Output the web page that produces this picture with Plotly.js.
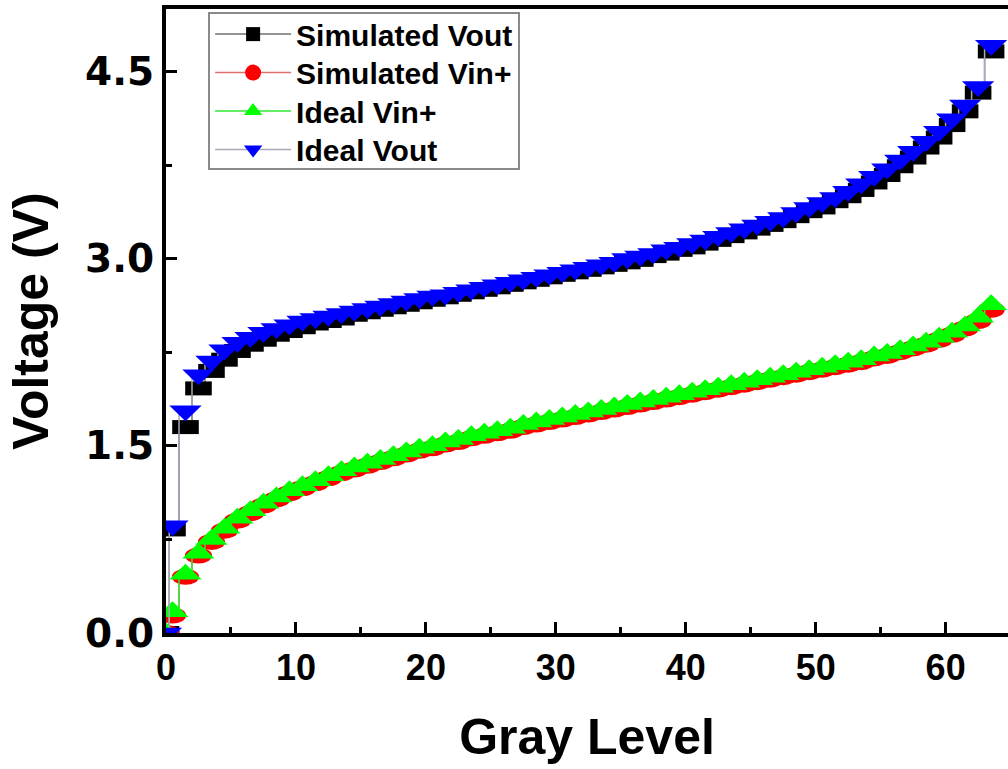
<!DOCTYPE html>
<html>
<head>
<meta charset="utf-8">
<script src="https://cdn.plot.ly/plotly-3.0.1.min.js"></script>
<style>
  html, body { margin: 0; padding: 0; background: #fff; }
  #chart { width: 1008px; height: 769px; }
</style>
</head>
<body>
<div id="chart"></div>
<script>
// Gray-level positions of the samples (first point at the origin, then centred half steps)
const grayLevel = [0, 0.5, 1.5, 2.5, 3.5, 4.5, 5.5, 6.5, 7.5, 8.5, 9.5, 10.5, 11.5, 12.5, 13.5, 14.5,
  15.5, 16.5, 17.5, 18.5, 19.5, 20.5, 21.5, 22.5, 23.5, 24.5, 25.5, 26.5, 27.5, 28.5, 29.5, 30.5,
  31.5, 32.5, 33.5, 34.5, 35.5, 36.5, 37.5, 38.5, 39.5, 40.5, 41.5, 42.5, 43.5, 44.5, 45.5, 46.5,
  47.5, 48.5, 49.5, 50.5, 51.5, 52.5, 53.5, 54.5, 55.5, 56.5, 57.5, 58.5, 59.5, 60.5, 61.5, 62.5, 63.5];

const simulatedVout = [0, 0.83, 1.65, 1.96, 2.10, 2.19, 2.26, 2.31, 2.35, 2.39, 2.42, 2.45, 2.48, 2.50, 2.52, 2.55,
  2.57, 2.59, 2.61, 2.63, 2.65, 2.67, 2.69, 2.71, 2.73, 2.75, 2.77, 2.79, 2.81, 2.83, 2.85, 2.87,
  2.89, 2.91, 2.93, 2.95, 2.97, 2.99, 3.02, 3.04, 3.07, 3.09, 3.12, 3.15, 3.18, 3.21, 3.24, 3.27,
  3.30, 3.34, 3.38, 3.41, 3.46, 3.50, 3.55, 3.61, 3.67, 3.74, 3.81, 3.89, 3.97, 4.07, 4.18, 4.33, 4.66];

const simulatedVinPlus = [0, 0.14, 0.45, 0.62, 0.73, 0.82, 0.90, 0.96, 1.02, 1.07, 1.12, 1.16, 1.20, 1.24, 1.28, 1.31,
  1.34, 1.37, 1.40, 1.43, 1.46, 1.48, 1.51, 1.53, 1.56, 1.58, 1.60, 1.62, 1.65, 1.67, 1.69, 1.71,
  1.73, 1.75, 1.77, 1.79, 1.81, 1.83, 1.85, 1.87, 1.89, 1.91, 1.93, 1.95, 1.97, 1.99, 2.01, 2.03,
  2.05, 2.07, 2.09, 2.11, 2.13, 2.15, 2.17, 2.20, 2.22, 2.25, 2.28, 2.31, 2.35, 2.39, 2.44, 2.50, 2.59];

const idealVinPlus = [0, 0.17, 0.47, 0.64, 0.75, 0.84, 0.92, 0.98, 1.04, 1.09, 1.14, 1.18, 1.22, 1.26, 1.30, 1.33,
  1.36, 1.39, 1.42, 1.45, 1.48, 1.50, 1.53, 1.55, 1.58, 1.60, 1.62, 1.64, 1.67, 1.69, 1.71, 1.73,
  1.75, 1.77, 1.79, 1.81, 1.83, 1.85, 1.87, 1.89, 1.91, 1.93, 1.95, 1.97, 1.99, 2.01, 2.03, 2.05,
  2.07, 2.09, 2.11, 2.13, 2.15, 2.17, 2.19, 2.22, 2.24, 2.27, 2.30, 2.33, 2.37, 2.41, 2.46, 2.53, 2.63];

const idealVout = [0, 0.86, 1.78, 2.07, 2.18, 2.27, 2.33, 2.37, 2.41, 2.44, 2.47, 2.50, 2.52, 2.54, 2.56, 2.58,
  2.60, 2.62, 2.64, 2.66, 2.68, 2.70, 2.71, 2.73, 2.75, 2.77, 2.79, 2.81, 2.83, 2.85, 2.87, 2.89,
  2.91, 2.93, 2.95, 2.97, 3.00, 3.02, 3.04, 3.07, 3.09, 3.12, 3.15, 3.18, 3.21, 3.24, 3.27, 3.30,
  3.33, 3.37, 3.41, 3.45, 3.49, 3.54, 3.60, 3.66, 3.72, 3.79, 3.86, 3.94, 4.02, 4.12, 4.23, 4.38, 4.71];

const seriesNames = ['Simulated Vout', 'Simulated Vin+', 'Ideal Vin+', 'Ideal Vout'];
const xTickValues = [0, 10, 20, 30, 40, 50, 60];
const yTickValues = [0, 1.5, 3.0, 4.5];

const FONT = 'Liberation Sans, Arial, Helvetica, sans-serif';
const WIDE = 'DejaVu Sans, Verdana, sans-serif';

function series(name, y, symbol, size, color, lineColor) {
  return {
    type: 'scatter', mode: 'lines+markers', name: name,
    x: grayLevel, y: y,
    line: { shape: 'hvh', color: lineColor, width: 1.5 },
    marker: { symbol: symbol, size: size, color: color, line: { width: 0 } }
  };
}

const traces = [
  series(seriesNames[0], simulatedVout, 'square', 14, '#000000', '#707070'),
  series(seriesNames[1], simulatedVinPlus, 'circle', 16, '#ff0000', '#e07070'),
  series(seriesNames[2], idealVinPlus, 'triangle-up', 20, '#00ff00', '#30e830'),
  series(seriesNames[3], idealVout, 'triangle-down', 20, '#0000ff', '#a8a8b8')
];

// Horizontal stretch applied to the plotted symbols of each trace (legend symbols stay normal)
const symbolScale = [[1.9, 1.0], [1.7, 1.0], [1.4, 1.05], [1.4, 1.05]];
// Row pitch of the legend entries, in pixels
const LEGEND_ROW = 38.5;

const layout = {
  width: 1008, height: 769,
  margin: { l: 166, r: 0, t: 9, b: 136 },
  paper_bgcolor: '#ffffff', plot_bgcolor: '#ffffff',
  showlegend: true,
  legend: {
    x: 0.05, y: 0.995, xanchor: 'left', yanchor: 'top',
    bgcolor: '#ffffff', bordercolor: '#8a8a8a', borderwidth: 2,
    font: { family: FONT, size: 30, weight: 'bold', color: '#000' },
    itemwidth: 76, tracegroupgap: 0
  },
  xaxis: {
    range: [0, 64.8],
    tickvals: xTickValues, ticktext: xTickValues.map(String),
    ticks: 'inside', ticklen: 11, tickwidth: 3, tickcolor: '#000',
    minor: { dtick: 5, tick0: 0, ticks: 'inside', ticklen: 6, tickwidth: 3, tickcolor: '#000' },
    showline: true, linewidth: 4, linecolor: '#000', mirror: true,
    showgrid: false, zeroline: false,
    tickfont: { family: FONT, size: 36, weight: 'bold', color: '#000' },
    title: { text: 'Gray Level', font: { family: FONT, size: 50, weight: 'bold', color: '#000' }, standoff: 33 }
  },
  yaxis: {
    range: [0, 5],
    tickvals: yTickValues, ticktext: yTickValues.map(v => v.toFixed(1)),
    ticks: 'inside', ticklen: 11, tickwidth: 3, tickcolor: '#000',
    minor: { dtick: 0.75, tick0: 0, ticks: 'inside', ticklen: 6, tickwidth: 3, tickcolor: '#000' },
    showline: true, linewidth: 4, linecolor: '#000', mirror: false,
    showgrid: false, zeroline: false,
    tickfont: { family: WIDE, size: 39, weight: 'bold', color: '#000' },
    title: { text: 'Voltage (V)', font: { family: FONT, size: 50, weight: 'bold', color: '#000' }, standoff: 22 }
  }
};

Plotly.newPlot('chart', traces, layout, { staticPlot: true, displayModeBar: false }).then(function (gd) {
  const groups = gd.querySelectorAll('.scatterlayer .trace');
  groups.forEach(function (g, i) {
    const s = symbolScale[i];
    if (!s) return;
    g.querySelectorAll('path.point').forEach(function (p) {
      const t = p.getAttribute('transform') || '';
      p.setAttribute('transform', t + ' scale(' + s[0] + ',' + s[1] + ')');
    });
  });
  // Pack the legend rows a little closer and shrink its frame to suit
  const items = gd.querySelectorAll('.legend .traces');
  const bg = gd.querySelector('.legend rect.bg');
  if (items.length > 1 && bg) {
    const ys = [];
    const xs = [];
    items.forEach(function (item) {
      const m = /translate\(([-\d.]+),\s*([-\d.]+)\)/.exec(item.getAttribute('transform') || '');
      xs.push(m ? m[1] : '0');
      ys.push(m ? parseFloat(m[2]) : 0);
    });
    const pitch = ys[1] - ys[0];
    items.forEach(function (item, i) {
      item.setAttribute('transform', 'translate(' + xs[i] + ',' + (ys[0] + i * LEGEND_ROW - 6) + ')');
    });
    const h = parseFloat(bg.getAttribute('height'));
    bg.setAttribute('height', h - (items.length - 1) * (pitch - LEGEND_ROW) - 14);
  }
});
</script>
</body>
</html>
